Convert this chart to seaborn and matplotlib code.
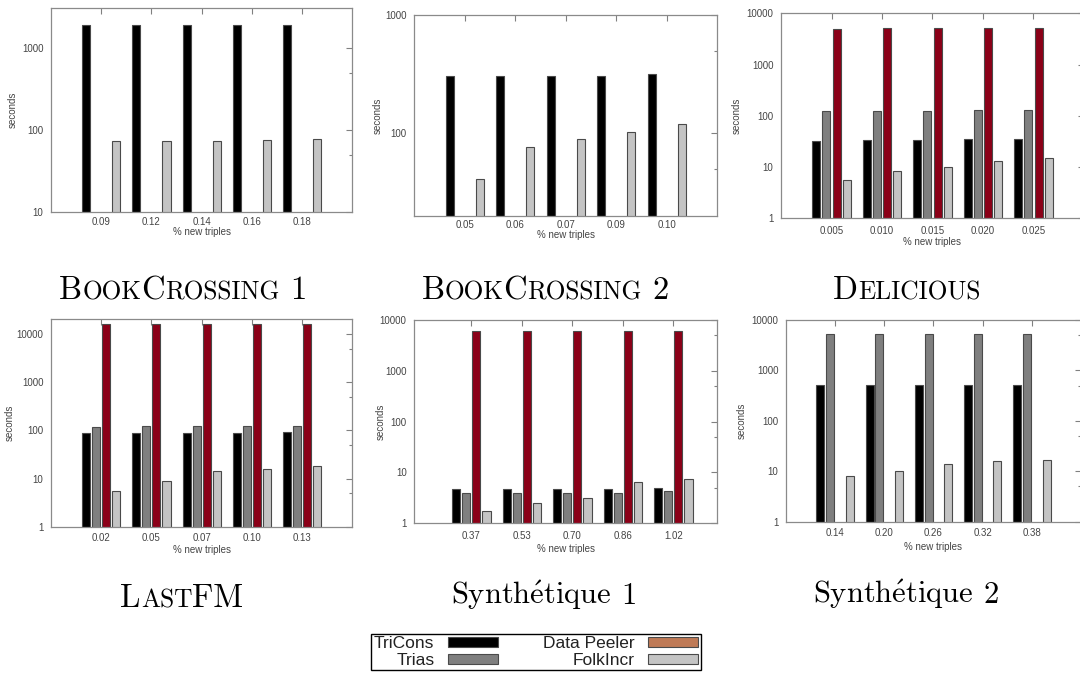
import matplotlib
matplotlib.use("Agg")
import matplotlib.pyplot as plt
import numpy as np
import pandas as pd
import seaborn as sns
from matplotlib.ticker import FixedLocator, FuncFormatter, NullFormatter, NullLocator
from matplotlib.patches import Patch

# ---------------- data ----------------
ALGOS = ["TriCons", "Trias", "Data Peeler", "FolkIncr"]

bc1_x = ["0.09", "0.12", "0.14", "0.16", "0.18"]
bc1_tricons = [1900, 1900, 1900, 1900, 1900]
bc1_folk = [73, 73, 73, 75, 78]

bc2_x = ["0.05", "0.06", "0.07", "0.09", "0.10"]
bc2_tricons = [306, 308, 306, 306, 316]
bc2_folk = [41, 77, 90, 102, 119]

del_x = ["0.005", "0.010", "0.015", "0.020", "0.025"]
del_tricons = [32, 34, 34, 35, 35]
del_trias = [126, 126, 126, 131, 131]
del_peeler = [4960, 5130, 5130, 5130, 5130]
del_folk = [5.7, 8.4, 10.1, 13.4, 15.0]

lfm_x = ["0.02", "0.05", "0.07", "0.10", "0.13"]
lfm_tricons = [87, 87, 87, 87, 91]
lfm_trias = [119, 123, 123, 123, 123]
lfm_peeler = [16100, 16100, 16100, 16100, 16100]
lfm_folk = [5.4, 8.7, 14.4, 16.1, 18.2]

syn1_x = ["0.37", "0.53", "0.70", "0.86", "1.02"]
syn1_tricons = [4.7, 4.7, 4.7, 4.8, 4.9]
syn1_trias = [3.9, 3.9, 4.0, 4.0, 4.3]
syn1_peeler = [5940, 5940, 5940, 5940, 5940]
syn1_folk = [1.75, 2.5, 3.1, 6.6, 7.35]

syn2_x = ["0.14", "0.20", "0.26", "0.32", "0.38"]
syn2_tricons = [517, 517, 517, 517, 517]
syn2_trias = [5250, 5250, 5250, 5250, 5250]
syn2_folk = [8.1, 10.3, 14.2, 15.8, 17.1]

# ---------------- style ----------------
sns.set_theme(style="white")
plt.rcParams["font.family"] = ["Liberation Sans", "DejaVu Sans"]
plt.rcParams["mathtext.fontset"] = "cm"

BAR_COLORS = {"TriCons": "#000000", "Trias": "#7f7f7f",
              "Data Peeler": "#8b0018", "FolkIncr": "#c4c4c4"}
LEGEND_COLORS = {"TriCons": "#000000", "Trias": "#7f7f7f",
                 "Data Peeler": "#bf7a56", "FolkIncr": "#c4c4c4"}

W, H = 1080, 675
fig = plt.figure(figsize=(W / 100, H / 100), dpi=100)


def add_axes_px(l, t, r, b):
    return fig.add_axes([l / W, 1 - b / H, (r - l) / W, (b - t) / H])


panels = [
    dict(x=bc1_x, series={"TriCons": bc1_tricons, "FolkIncr": bc1_folk},
         box=(51, 8, 352.3, 212), ylim=(10, 3080), xlim=(-1, 5),
         ylab=-33, xlab=15, tpad=6),
    dict(x=bc2_x, series={"TriCons": bc2_tricons, "FolkIncr": bc2_folk},
         box=(414.3, 15, 717.3, 216), ylim=(20, 1000), xlim=(-1, 5),
         ylab=-32, xlab=14, tpad=5),
    dict(x=del_x, series={"TriCons": del_tricons, "Trias": del_trias,
                          "Data Peeler": del_peeler, "FolkIncr": del_folk},
         box=(781, 13.3, 1084, 218.3), ylim=(1, 10000), xlim=(-1, 5),
         ylab=-39, xlab=19, tpad=8),
    dict(x=lfm_x, series={"TriCons": lfm_tricons, "Trias": lfm_trias,
                          "Data Peeler": lfm_peeler, "FolkIncr": lfm_folk},
         box=(51, 319.3, 352.3, 526.7), ylim=(1, 20200), xlim=(-1, 5),
         ylab=-36, xlab=18, tpad=6.5),
    dict(x=syn1_x, series={"TriCons": syn1_tricons, "Trias": syn1_trias,
                           "Data Peeler": syn1_peeler, "FolkIncr": syn1_folk},
         box=(414.3, 320, 717.3, 523.3), ylim=(1, 10000), xlim=(-1.13, 4.87),
         ylab=-29, xlab=21, tpad=8),
    dict(x=syn2_x, series={"TriCons": syn2_tricons, "Trias": syn2_trias,
                           "FolkIncr": syn2_folk},
         box=(786, 320, 1081, 521.7), ylim=(1, 10000), xlim=(-1, 5),
         ylab=-39, xlab=20, tpad=6.5),
]

for p in panels:
    l, t, r, b = p["box"]
    ax = add_axes_px(l, t, r, b)
    rows = []
    for algo, vals in p["series"].items():
        for xl, v in zip(p["x"], vals):
            rows.append({"x": xl, "seconds": v, "algo": algo})
    df = pd.DataFrame(rows)
    sns.barplot(data=df, x="x", y="seconds", hue="algo", order=p["x"],
                hue_order=ALGOS, palette=BAR_COLORS, saturation=1,
                width=0.8, gap=0.2, errorbar=None, legend=False,
                edgecolor="#4a4a4a", linewidth=0.8, ax=ax)
    ax.set_yscale("log")
    lo, hi = p["ylim"]
    ax.set_ylim(lo, hi)
    ax.set_xlim(*p["xlim"])
    maj = [10.0 ** k for k in range(0, 6) if lo <= 10.0 ** k <= hi * 1.001]
    mnr = [5 * 10.0 ** k for k in range(0, 6) if lo < 5 * 10.0 ** k < hi]
    ax.yaxis.set_major_locator(FixedLocator(maj))
    ax.yaxis.set_minor_locator(FixedLocator(mnr))
    ax.yaxis.set_major_formatter(FuncFormatter(lambda v, pos: f"{v:g}"))
    ax.yaxis.set_minor_formatter(NullFormatter())
    ax.xaxis.set_minor_locator(NullLocator())
    ax.tick_params(which="both", direction="in", top=True, right=True,
                   color="#808080", labelcolor="#444444", labelsize=7, width=0.8)
    ax.tick_params(which="major", length=4)
    ax.tick_params(which="minor", length=2.5)
    ax.tick_params(axis="x", which="major", pad=p["tpad"] * 0.72 - 0.5)
    ax.tick_params(axis="y", which="major", pad=5.5)
    for s in ax.spines.values():
        s.set_visible(True)
        s.set_color("#8a8a8a")
        s.set_linewidth(0.9)
    ax.set_xlabel("% new triples", fontsize=7, color="#444444")
    ax.set_ylabel("seconds", fontsize=7, color="#444444")
    ax.yaxis.set_label_coords(p["ylab"] / (r - l), 0.5)
    ax.xaxis.set_label_coords(0.5, -p["xlab"] / (b - t))
    ax.grid(False)

# ---------------- titles (small caps emulation) ----------------
renderer = fig.canvas.get_renderer()
SC = 0.78
TSIZE = 23.5


def sc_title(cx, base_y, pieces, size=TSIZE):
    items = []
    total = 0.0
    for s, k in pieces:
        if s == " ":
            w = 0.333 * size * 100 / 72
            items.append((None, w))
            total += w
            continue
        txt = fig.text(0, 1 - base_y / H, s, fontsize=size * k, family="cmr10",
                       va="baseline", ha="left", color="black")
        w = txt.get_window_extent(renderer=renderer).width
        items.append((txt, w))
        total += w
    x = cx - total / 2
    for txt, w in items:
        if txt is not None:
            txt.set_x(x / W)
        x += w


sc_title(183, 299, [("B", 1), ("OOK", SC), ("C", 1), ("ROSSING", SC), (" ", 1), ("1", 1)])
sc_title(545, 299, [("B", 1), ("OOK", SC), ("C", 1), ("ROSSING", SC), (" ", 1), ("2", 1)])
sc_title(907, 299, [("D", 1), ("ELICIOUS", SC)])
sc_title(182, 607, [("L", 1), ("AST", SC), ("FM", 1)])
sc_title(544, 604, [(r"Synth$\acute{\mathrm{e}}$tique", 1), (" ", 1), ("1", 1)], size=22)
sc_title(906, 603, [(r"Synth$\acute{\mathrm{e}}$tique", 1), (" ", 1), ("2", 1)], size=22)

# ---------------- legend ----------------
handles = [Patch(facecolor=LEGEND_COLORS[a], edgecolor="#4a4a4a", linewidth=0.8)
           for a in ALGOS]
leg = fig.legend(handles, ALGOS, ncol=2, loc="center",
                 bbox_to_anchor=(536 / W, 1 - 652 / H),
                 bbox_transform=fig.transFigure, markerfirst=False,
                 frameon=True, fancybox=False, edgecolor="black", framealpha=1,
                 fontsize=12.5, handlelength=2.85, handleheight=0.5,
                 handletextpad=0.8, columnspacing=2.6, labelspacing=0.1,
                 borderpad=0.15, borderaxespad=0)
leg.get_frame().set_linewidth(1.0)
for txt in leg.get_texts():
    txt.set_color("#222222")

fig.savefig("out.png", dpi=100)
